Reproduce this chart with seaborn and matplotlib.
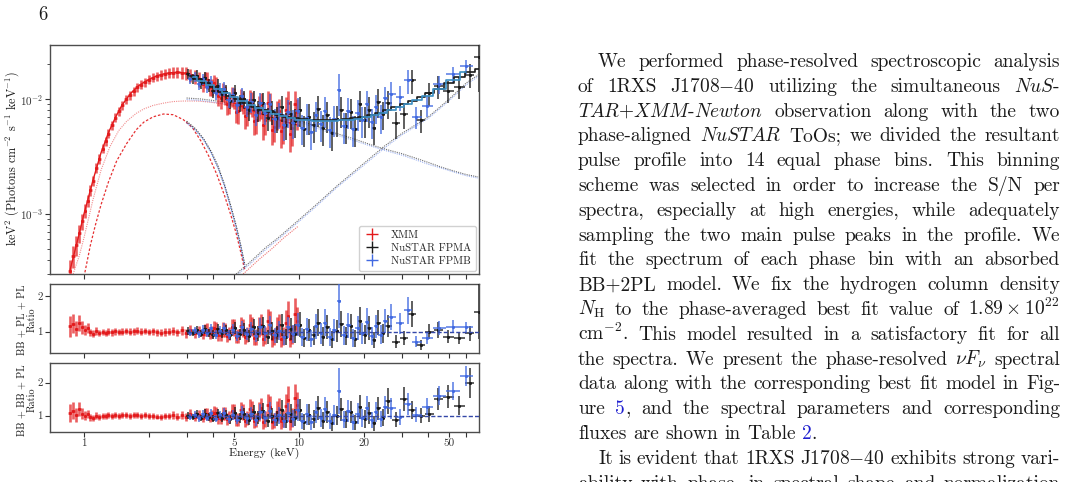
import numpy as np
import matplotlib
matplotlib.use('Agg')
import matplotlib.pyplot as plt
from matplotlib.lines import Line2D
from matplotlib.ticker import NullLocator, FixedLocator
import seaborn as sns

# ---------------- data ----------------
# XMM-Newton spectrum (keV, keV^2 photons cm^-2 s^-1 keV^-1)
xmm_e = [0.86, 0.89, 0.92, 0.95, 0.98, 1.01, 1.04, 1.07, 1.10, 1.14,
         1.18, 1.22, 1.26, 1.30, 1.35, 1.40, 1.45, 1.51, 1.57, 1.63,
         1.70, 1.77, 1.84, 1.92, 2.00, 2.09, 2.18, 2.28, 2.38, 2.49,
         2.60, 2.72, 2.85, 2.98, 3.12, 3.27, 3.42,
         3.58, 3.66, 3.75, 3.84, 3.93, 4.02, 4.12, 4.22, 4.32, 4.42,
         4.53, 4.64, 4.75, 4.86, 4.98, 5.10, 5.22, 5.35, 5.48, 5.61,
         5.75, 5.89, 6.03, 6.18, 6.33, 6.48, 6.64, 6.80, 6.97, 7.14,
         7.31, 7.49, 7.67, 7.86, 8.05, 8.25, 8.45, 8.66, 8.87, 9.09,
         9.31, 9.54, 9.77]
xmm_flux = [3.2e-4, 4.3e-4, 5.4e-4, 6.8e-4, 8.6e-4, 1.07e-3, 1.30e-3, 1.60e-3, 1.95e-3, 2.50e-3,
            3.0e-3, 3.7e-3, 4.3e-3, 5.0e-3, 5.9e-3, 6.9e-3, 7.8e-3, 8.9e-3, 9.9e-3, 1.08e-2,
            1.17e-2, 1.26e-2, 1.33e-2, 1.40e-2, 1.47e-2, 1.53e-2, 1.58e-2, 1.62e-2, 1.66e-2, 1.68e-2,
            1.70e-2, 1.71e-2, 1.70e-2, 1.68e-2, 1.62e-2, 1.57e-2, 1.50e-2,
            1.36e-2, 1.49e-2, 1.47e-2, 1.28e-2, 1.27e-2, 1.37e-2, 1.31e-2, 1.06e-2, 1.02e-2, 1.16e-2,
            1.10e-2, 9.08e-3, 9.31e-3, 1.07e-2, 1.04e-2, 7.78e-3, 7.83e-3, 1.01e-2, 9.46e-3, 7.06e-3,
            7.59e-3, 9.72e-3, 9.20e-3, 6.44e-3, 6.55e-3, 8.51e-3, 9.00e-3, 5.92e-3, 6.53e-3, 9.30e-3,
            8.81e-3, 5.42e-3, 5.75e-3, 7.43e-3, 7.85e-3, 5.24e-3, 5.68e-3, 8.00e-3, 9.15e-3, 4.96e-3,
            5.61e-3, 9.00e-3, 7.74e-3]
xmm_err = [0.25, 0.22, 0.20, 0.18, 0.16, 0.14, 0.12, 0.11, 0.10, 0.10,
           0.10, 0.09, 0.09, 0.09, 0.09, 0.09, 0.09, 0.09, 0.09, 0.09,
           0.09, 0.09, 0.09, 0.09, 0.09, 0.09, 0.09, 0.10, 0.10, 0.10,
           0.11, 0.11, 0.12, 0.13, 0.13, 0.14, 0.15,
           0.16, 0.16, 0.17, 0.17, 0.17, 0.18, 0.18, 0.18, 0.19, 0.19,
           0.19, 0.20, 0.20, 0.20, 0.21, 0.21, 0.22, 0.22, 0.22, 0.23,
           0.23, 0.24, 0.24, 0.24, 0.25, 0.25, 0.25, 0.26, 0.26, 0.26,
           0.27, 0.27, 0.27, 0.28, 0.28, 0.28, 0.29, 0.29, 0.29, 0.30,
           0.30, 0.30, 0.30]
xmm_ratio1 = [1.15, 1.22, 1.08, 1.25, 1.12, 1.05, 1.10, 0.98, 0.94, 1.02,
              0.96, 0.99, 0.97, 1.00, 0.98, 1.01, 0.99, 1.00, 1.02, 1.00,
              1.01, 1.03, 1.00, 1.02, 0.99, 1.01, 0.98, 0.97, 0.99, 1.00,
              1.03, 0.98, 1.04, 0.96, 1.05, 0.97, 1.02,
              0.93, 1.04, 1.06, 0.95, 0.98, 1.09, 1.08, 0.91, 0.90, 1.06,
              1.05, 0.89, 0.95, 1.13, 1.12, 0.86, 0.88, 1.15, 1.10, 0.84,
              0.92, 1.20, 1.15, 0.82, 0.85, 1.12, 1.20, 0.80, 0.90, 1.30,
              1.25, 0.78, 0.84, 1.10, 1.18, 0.80, 0.88, 1.25, 1.45, 0.80,
              0.92, 1.50, 1.30]
xmm_ratio2 = [1.08, 1.15, 1.02, 1.20, 1.06, 1.00, 1.05, 0.95, 0.92, 1.00,
              0.96, 0.99, 0.98, 1.01, 0.99, 1.02, 1.00, 1.01, 1.02, 1.00,
              1.01, 1.03, 1.00, 1.01, 0.98, 1.00, 0.97, 0.96, 0.98, 0.99,
              1.02, 0.97, 1.03, 0.96, 1.05, 0.97, 1.03,
              0.94, 1.05, 1.06, 0.96, 0.99, 1.09, 1.08, 0.92, 0.91, 1.07,
              1.05, 0.90, 0.95, 1.13, 1.13, 0.87, 0.88, 1.16, 1.10, 0.85,
              0.92, 1.21, 1.16, 0.83, 0.86, 1.12, 1.22, 0.81, 0.90, 1.32,
              1.26, 0.80, 0.85, 1.12, 1.20, 0.82, 0.90, 1.28, 1.48, 0.82,
              0.94, 1.52, 1.32]

# NuSTAR FPMA data
fpma_e = [3.05, 3.2, 3.35, 3.5, 3.65, 3.8, 4.0, 4.2, 4.4, 4.6, 4.8,
          5.05, 5.3, 5.55, 5.85, 6.15, 6.45, 6.8, 7.15, 7.5, 7.9, 8.3, 8.7, 9.15, 9.6,
          10.1, 10.6, 11.15, 11.7, 12.3, 12.9, 13.55, 14.25, 15.0, 15.75, 16.55, 17.4,
          18.3, 19.2, 20.2, 21.2, 22.3, 23.4, 24.6, 25.9,
          28.1, 30.7, 33.6, 36.8, 40.3, 44.5, 49.5, 55.5, 62.5, 68.5]
fpma_flux = [1.65e-2, 1.51e-2, 1.60e-2, 1.38e-2, 1.52e-2, 1.32e-2, 1.17e-2, 1.31e-2, 1.10e-2, 1.15e-2, 9.63e-3,
             1.13e-2, 9.21e-3, 9.96e-3, 8.0e-3, 9.74e-3, 7.98e-3, 9.32e-3, 6.79e-3, 7.8e-3, 6.81e-3, 8.5e-3,
             5.99e-3, 7.45e-3, 6.39e-3,
             8.04e-3, 5.45e-3, 6.93e-3, 5.9e-3, 8.13e-3, 5.59e-3, 7.28e-3, 5.07e-3, 6.68e-3, 8.05e-3,
             5.85e-3, 7.76e-3, 5.48e-3, 9.04e-3, 6.53e-3, 7.98e-3, 5.62e-3, 9.5e-3, 7.41e-3, 9.2e-3,
             6.12e-3, 7.38e-3, 1.455e-2, 6.55e-3, 1.12e-2, 1.29e-2, 1.18e-2, 1.27e-2, 1.63e-2, 2.3e-2]
fpma_err = [0.10, 0.10, 0.11, 0.11, 0.12, 0.12, 0.13, 0.13, 0.14, 0.14, 0.15,
            0.16, 0.17, 0.18, 0.19, 0.20, 0.21, 0.22, 0.23, 0.24, 0.25, 0.26, 0.27, 0.28, 0.28,
            0.29, 0.30, 0.30, 0.30, 0.30, 0.30, 0.30, 0.30, 0.30, 0.30, 0.30, 0.30,
            0.30, 0.30, 0.30, 0.30, 0.29, 0.28, 0.28, 0.27,
            0.26, 0.25, 0.24, 0.22, 0.22, 0.22, 0.22, 0.22, 0.23, 0.50]
fpma_ratio1 = [1.02, 0.96, 1.05, 0.94, 1.07, 0.97, 0.92, 1.08, 0.95, 1.04, 0.90,
               1.10, 0.93, 1.06, 0.88, 1.12, 0.95, 1.15, 0.86, 1.02, 0.92, 1.18, 0.85, 1.08, 0.94,
               1.20, 0.82, 1.05, 0.90, 1.25, 0.86, 1.12, 0.78, 1.02, 1.22, 0.88, 1.15,
               0.80, 1.30, 0.92, 1.10, 0.76, 1.25, 0.95, 1.15,
               0.72, 0.82, 1.50, 0.63, 1.00, 1.05, 0.86, 0.82, 0.95, 1.56]
fpma_ratio2 = [1.00, 0.95, 1.04, 0.93, 1.06, 0.96, 0.91, 1.07, 0.94, 1.03, 0.89,
               1.08, 0.92, 1.05, 0.87, 1.10, 0.94, 1.13, 0.85, 1.00, 0.91, 1.16, 0.84, 1.06, 0.93,
               1.17, 0.81, 1.03, 0.89, 1.22, 0.85, 1.10, 0.77, 1.00, 1.19, 0.87, 1.12,
               0.79, 1.26, 0.90, 1.08, 0.76, 1.22, 0.94, 1.45,
               0.87, 1.50, 1.17, 1.00, 1.05, 1.50, 1.58, 1.30, 2.00, np.nan]

# NuSTAR FPMB data
fpmb_e = [3.12, 3.27, 3.42, 3.57, 3.73, 3.9, 4.1, 4.3, 4.5, 4.7,
          4.92, 5.17, 5.42, 5.7, 6.0, 6.3, 6.62, 6.97, 7.32, 7.7,
          8.1, 8.5, 8.92, 9.37, 9.85, 10.35, 10.87, 11.42, 12.0, 12.6,
          13.22, 13.9, 14.6, 15.35, 16.15, 16.97, 17.85, 18.75, 19.7, 20.7,
          21.75, 22.85, 24.0, 25.2,
          26.9, 29.4, 32.1, 35.1, 39.3, 45.0, 52.0, 60.0]
fpmb_flux = [1.50e-2, 1.56e-2, 1.35e-2, 1.48e-2, 1.28e-2, 1.41e-2, 1.12e-2, 1.21e-2, 1.23e-2, 9.74e-3,
             1.08e-2, 8.81e-3, 1.06e-2, 8.55e-3, 9.4e-3, 7.31e-3, 9.23e-3, 7.54e-3, 8.97e-3, 6.66e-3,
             7.36e-3, 5.88e-3, 7.67e-3, 6.23e-3, 7.92e-3, 5.59e-3, 6.9e-3, 5.12e-3, 7.3e-3, 6.03e-3,
             7.94e-3, 5.4e-3, 6.72e-3, 1.19e-2, 5.85e-3, 7.79e-3, 5.49e-3, 7.48e-3, 6.56e-3, 9.02e-3,
             6.34e-3, 8.45e-3, 6.95e-3, 1.01e-2,
             1.11e-2, 1.04e-2, 1.45e-2, 7.0e-3, 8.77e-3, 1.34e-2, 1.65e-2, 1.93e-2]
fpmb_err = [0.10, 0.10, 0.11, 0.11, 0.12, 0.12, 0.13, 0.13, 0.14, 0.14,
            0.15, 0.16, 0.17, 0.18, 0.19, 0.20, 0.21, 0.22, 0.23, 0.24,
            0.25, 0.26, 0.27, 0.28, 0.28, 0.29, 0.30, 0.30, 0.30, 0.30,
            0.30, 0.30, 0.30, 0.40, 0.30, 0.30, 0.30, 0.30, 0.30, 0.30,
            0.29, 0.28, 0.28, 0.27,
            0.26, 0.25, 0.24, 0.22, 0.20, 0.18, 0.16, 0.14]
fpmb_ratio1 = [0.97, 1.04, 0.93, 1.06, 0.95, 1.09, 0.92, 1.03, 1.10, 0.91,
               1.05, 0.89, 1.12, 0.94, 1.08, 0.87, 1.14, 0.96, 1.18, 0.90,
               1.03, 0.84, 1.12, 0.93, 1.20, 0.86, 1.07, 0.80, 1.15, 0.95,
               1.25, 0.85, 1.05, 1.85, 0.90, 1.18, 0.82, 1.10, 0.95, 1.28,
               0.88, 1.15, 0.92, 1.30,
               1.40, 1.23, 1.60, 0.72, 0.82, 1.10, 1.14, 1.12]
fpmb_ratio2 = [0.96, 1.03, 0.92, 1.05, 0.94, 1.08, 0.91, 1.02, 1.08, 0.90,
               1.03, 0.88, 1.10, 0.92, 1.06, 0.86, 1.11, 0.94, 1.15, 0.88,
               1.01, 0.83, 1.09, 0.91, 1.17, 0.84, 1.04, 0.79, 1.11, 0.93,
               1.21, 0.83, 1.02, 1.75, 0.88, 1.13, 0.80, 1.06, 0.92, 1.22,
               0.86, 1.10, 0.90, 1.25,
               1.22, 0.95, 1.35, 1.03, 1.27, 1.60, 1.75, 2.20]

# binned best-fit models (steps)
fpma_mod_e = [3.1, 3.4, 3.7, 4.0, 4.4, 4.8, 5.2, 5.7, 6.2, 6.8, 7.4, 8.1, 8.8, 9.6,
              10.5, 11.5, 12.6, 13.8, 15.1, 16.5, 18.0, 19.7, 21.5, 23.5, 25.7, 28.1,
              30.7, 33.6, 36.8, 40.3, 44.5, 49.5, 55.5, 62.5, 68.5]
fpma_mod = [1.6e-2, 1.5e-2, 1.38e-2, 1.27e-2, 1.16e-2, 1.07e-2, 1.0e-2, 9.2e-3, 8.6e-3, 8.1e-3,
            7.7e-3, 7.3e-3, 7.0e-3, 6.8e-3, 6.65e-3, 6.55e-3, 6.5e-3, 6.5e-3, 6.55e-3, 6.65e-3,
            6.8e-3, 7.0e-3, 7.3e-3, 7.6e-3, 8.0e-3, 8.5e-3, 9.0e-3, 9.7e-3, 1.04e-2, 1.12e-2,
            1.23e-2, 1.37e-2, 1.55e-2, 1.72e-2, 1.82e-2]
fpmb_mod_e = [3.2, 3.5, 3.85, 4.2, 4.6, 5.0, 5.45, 5.95, 6.5, 7.1, 7.75, 8.45, 9.2, 10.05,
              11.0, 12.05, 13.2, 14.45, 15.8, 17.25, 18.85, 20.6, 22.5, 24.6, 26.9, 29.4,
              32.1, 35.1, 39.3, 45.0, 52.0, 60.0]
fpmb_mod = [1.54e-2, 1.44e-2, 1.32e-2, 1.22e-2, 1.12e-2, 1.04e-2, 9.6e-3, 8.9e-3, 8.3e-3, 7.8e-3,
            7.4e-3, 7.05e-3, 6.8e-3, 6.6e-3, 6.5e-3, 6.4e-3, 6.4e-3, 6.4e-3, 6.5e-3, 6.6e-3,
            6.75e-3, 6.95e-3, 7.2e-3, 7.55e-3, 7.95e-3, 8.45e-3, 9.05e-3, 9.75e-3, 1.07e-2,
            1.22e-2, 1.45e-2, 1.72e-2]

# model curves (XMM total and components)
xmod_e = [0.86, 0.9, 0.95, 1.0, 1.05, 1.1, 1.2, 1.3, 1.4, 1.5, 1.65, 1.8, 2.0, 2.2, 2.4,
          2.6, 2.8, 3.0, 3.3, 3.6, 4.0, 4.5, 5.0, 5.6, 6.3, 7.0, 8.0, 9.0, 10.0]
xmod = [3.2e-4, 4.5e-4, 6.7e-4, 1.0e-3, 1.4e-3, 1.95e-3, 3.4e-3, 5.1e-3, 6.9e-3, 8.8e-3,
        1.12e-2, 1.31e-2, 1.48e-2, 1.6e-2, 1.67e-2, 1.70e-2, 1.70e-2, 1.67e-2, 1.58e-2, 1.45e-2,
        1.26e-2, 1.05e-2, 9.2e-3, 8.4e-3, 7.7e-3, 7.2e-3, 6.6e-3, 6.2e-3, 5.9e-3]
bb_x_e = [1.01, 1.07, 1.13, 1.2, 1.3, 1.42, 1.58, 1.75, 1.9, 2.1, 2.34, 2.6, 2.9, 3.2,
          3.5, 3.8, 4.15, 4.5, 4.8, 5.1, 5.35, 5.6]
bb_x = [3.1e-4, 5.3e-4, 8.0e-4, 1.2e-3, 1.9e-3, 2.9e-3, 4.1e-3, 5.4e-3, 6.3e-3, 7.0e-3, 7.4e-3,
        7.3e-3, 6.6e-3, 5.6e-3, 4.3e-3, 3.2e-3, 2.2e-3, 1.45e-3, 1.0e-3, 6.8e-4, 4.7e-4, 3.2e-4]
spl_x_e = [0.89, 0.95, 1.0, 1.1, 1.2, 1.32, 1.45, 1.58, 1.75, 1.9, 2.1, 2.34, 2.6, 2.9, 3.3,
           3.6, 4.0, 4.5, 5.0, 5.6, 6.3, 7.0, 8.0, 9.0, 10.0]
spl_x = [3.0e-4, 4.3e-4, 6.2e-4, 1.32e-3, 2.4e-3, 3.85e-3, 5.3e-3, 6.4e-3, 7.5e-3, 8.2e-3,
         8.8e-3, 9.2e-3, 9.5e-3, 9.6e-3, 9.6e-3, 9.5e-3, 9.3e-3, 9.0e-3, 8.7e-3, 8.3e-3,
         7.9e-3, 7.5e-3, 7.0e-3, 6.6e-3, 6.3e-3]
hpl_x_e = [5.5, 6.5, 7.5, 8.5, 9.9]
hpl_x = [3.0e-4, 4.0e-4, 5.0e-4, 6.2e-4, 7.8e-4]

# NuSTAR components (FPMA / FPMB)
bb_n_e = [3.0, 3.3, 3.6, 3.9, 4.2, 4.5, 4.8, 5.1, 5.35, 5.6]
bb_a = [6.4e-3, 5.5e-3, 4.5e-3, 3.5e-3, 2.6e-3, 1.8e-3, 1.2e-3, 7.9e-4, 5.4e-4, 3.6e-4]
bb_b = [6.2e-3, 5.35e-3, 4.4e-3, 3.4e-3, 2.5e-3, 1.75e-3, 1.15e-3, 7.6e-4, 5.2e-4, 3.4e-4]
spl_n_e = [3.0, 3.5, 4.0, 5.0, 6.0, 7.0, 8.0, 10.0, 12.0, 15.0, 18.0, 22.0, 26.0, 30.0,
           35.0, 40.0, 46.0, 53.0, 60.0, 68.0]
spl_a = [1.02e-2, 1.0e-2, 9.7e-3, 9.1e-3, 8.5e-3, 7.9e-3, 7.4e-3, 6.5e-3, 5.8e-3, 5.0e-3,
         4.5e-3, 3.95e-3, 3.6e-3, 3.35e-3, 3.05e-3, 2.8e-3, 2.55e-3, 2.35e-3, 2.2e-3, 2.1e-3]
spl_b = [9.9e-3, 9.7e-3, 9.4e-3, 8.8e-3, 8.2e-3, 7.65e-3, 7.2e-3, 6.3e-3, 5.6e-3, 4.85e-3,
         4.35e-3, 3.85e-3, 3.5e-3, 3.25e-3, 2.95e-3, 2.7e-3, 2.5e-3, 2.3e-3, 2.15e-3, 2.05e-3]
hpl_n_e = [5.1, 6.0, 7.0, 8.0, 10.0, 12.0, 15.0, 20.0, 25.0, 30.0, 40.0, 50.0, 60.0, 68.0]
hpl_a = [3.0e-4, 3.9e-4, 5.1e-4, 6.2e-4, 8.9e-4, 1.2e-3, 1.75e-3, 2.75e-3, 3.9e-3, 5.0e-3,
         7.0e-3, 1.0e-2, 1.38e-2, 1.62e-2]
hpl_b = [2.9e-4, 3.75e-4, 4.9e-4, 6.0e-4, 8.6e-4, 1.16e-3, 1.7e-3, 2.65e-3, 3.75e-3, 4.85e-3,
         6.8e-3, 9.7e-3, 1.33e-2, 1.57e-2]

unity_e = [3.0, 79.0]
unity = [1.0, 1.0]

xtick_vals = [1, 2, 3, 4, 5, 10, 20, 30, 40, 50, 60]
xtick_text = ['1', '', '', '', '5', '10', '20', '', '', '50', '']

RED = '#e31a1c'
BLUE = '#4169e1'
INK = '#1a1a1a'

sns.set_theme(style='ticks')
plt.rcParams['font.family'] = ['cmr10', 'DejaVu Serif']
plt.rcParams['mathtext.fontset'] = 'cm'
plt.rcParams['axes.formatter.use_mathtext'] = True
plt.rcParams['axes.edgecolor'] = '0.3'
plt.rcParams['axes.linewidth'] = 1.0
plt.rcParams['xtick.color'] = '0.2'
plt.rcParams['ytick.color'] = '0.2'

W, H = 1067, 482
fig = plt.figure(figsize=(W / 100, H / 100), dpi=100)


def px_axes(left, top, right, bottom, **kw):
    return fig.add_axes([left / W, 1 - bottom / H, (right - left) / W, (bottom - top) / H], **kw)


ax0 = px_axes(50, 45, 479, 274)
ax1 = px_axes(50, 284, 479, 353, sharex=ax0)
ax2 = px_axes(50, 363, 479, 432, sharex=ax0)


def half_widths(e):
    e = np.asarray(e, float)
    mid = np.sqrt(e[1:] * e[:-1])
    lo = np.concatenate([[e[0] ** 2 / mid[0]], mid])
    hi = np.concatenate([mid, [e[-1] ** 2 / mid[-1]]])
    return np.vstack([e - lo, hi - e])


def points(ax, e, y, rel, color, z, lw=1.4, alpha=0.7):
    y = np.asarray(y, float)
    ax.errorbar(e, y, xerr=half_widths(e), yerr=np.asarray(rel) * y, fmt='none',
                ecolor=color, elinewidth=lw, alpha=alpha, zorder=z)
    sns.scatterplot(x=e, y=y, ax=ax, color=color, s=5, linewidth=0, zorder=z + 0.1, legend=False)


def curve(ax, e, y, color, ls='-', lw=1.0, alpha=1.0, z=2, **kw):
    sns.lineplot(x=e, y=y, ax=ax, color=color, linestyle=ls, linewidth=lw, alpha=alpha,
                 zorder=z, legend=False, **kw)


# ---- main spectrum ----
ax0.set_xscale('log')
ax0.set_yscale('log')
curve(ax0, bb_x_e, bb_x, RED, ls=(0, (2, 1.5)), lw=0.9, alpha=0.9)
curve(ax0, spl_x_e, spl_x, RED, ls=(0, (1, 1)), lw=0.8, alpha=0.5)
curve(ax0, hpl_x_e, hpl_x, RED, ls=(0, (1, 1)), lw=0.8, alpha=0.6)
curve(ax0, bb_n_e, bb_a, 'k', ls=(0, (1, 1)), lw=0.9, alpha=0.8)
curve(ax0, bb_n_e, bb_b, BLUE, ls=(0, (1, 1)), lw=0.9, alpha=0.7)
curve(ax0, spl_n_e, spl_a, '0.2', ls=(0, (1, 1)), lw=0.8, alpha=0.7)
curve(ax0, spl_n_e, spl_b, BLUE, ls=(0, (1, 1)), lw=0.8, alpha=0.5)
curve(ax0, hpl_n_e, hpl_a, '0.2', ls=(0, (1, 1)), lw=0.8, alpha=0.7)
curve(ax0, hpl_n_e, hpl_b, BLUE, ls=(0, (1, 1)), lw=0.8, alpha=0.5)

points(ax0, xmm_e, xmm_flux, xmm_err, RED, 3, lw=1.9, alpha=0.7)
points(ax0, fpma_e, fpma_flux, fpma_err, 'k', 4)
points(ax0, fpmb_e, fpmb_flux, fpmb_err, BLUE, 5)

curve(ax0, xmod_e, xmod, RED, lw=1.0, z=3.5)
curve(ax0, fpma_mod_e, fpma_mod, 'k', lw=1.2, z=6, drawstyle='steps-mid')
curve(ax0, fpmb_mod_e, fpmb_mod, '#3b8fc4', lw=1.2, z=6, drawstyle='steps-mid')

ax0.set_ylim(3.0e-4, 2.95e-2)
handles = [Line2D([], [], color=c, marker='+', markersize=9, markeredgewidth=1.0,
                  linestyle='none', label=n)
           for c, n in [(RED, 'XMM'), ('k', 'NuSTAR FPMA'), (BLUE, 'NuSTAR FPMB')]]
leg = ax0.legend(handles=handles, loc='lower right', fontsize=7.8, frameon=True,
                 borderaxespad=0.3, handlelength=1.5, handletextpad=1.0, labelspacing=0.3,
                 borderpad=0.45, fancybox=True, framealpha=0.9)
leg.get_frame().set_edgecolor('0.8')
leg.set_zorder(10)

# ---- ratio panels ----
for ax, rx, ra, rb in [(ax1, xmm_ratio1, fpma_ratio1, fpmb_ratio1),
                       (ax2, xmm_ratio2, fpma_ratio2, fpmb_ratio2)]:
    curve(ax, unity_e, unity, '#3347a8', ls=(0, (3, 1.5)), lw=1.0, z=7)
    points(ax, xmm_e, rx, xmm_err, RED, 3, lw=1.9, alpha=0.7)
    points(ax, fpma_e, ra, fpma_err, 'k', 4)
    points(ax, fpmb_e, rb, fpmb_err, BLUE, 5)
    ax.set_yticks([1, 2])
    ax.set_yticklabels(['1', '2'])
    ax.yaxis.set_minor_locator(NullLocator())

ax1.set_ylim(0.4, 2.34)
ax2.set_ylim(0.5, 2.6)

for ax in (ax0, ax1, ax2):
    ax.set_xscale('log')
    ax.xaxis.set_major_locator(FixedLocator(xtick_vals))
    ax.xaxis.set_minor_locator(NullLocator())
    ax.set_xlabel('')
    ax.set_ylabel('')
    ax.tick_params(axis='both', which='major', direction='out', length=3.5, width=0.8,
                   labelsize=8, pad=1.5)
    ax.tick_params(axis='both', which='minor', direction='out', length=2, width=0.6)
    for s in ax.spines.values():
        s.set_visible(True)
ax0.set_xlim(0.695, 68.7)
ax2.set_xticklabels(xtick_text)
ax0.tick_params(labelbottom=False)
ax1.tick_params(labelbottom=False)

fig.text(12 / W, 1 - 159 / H, r'keV$^2$ (Photons cm$^{-2}$ s$^{-1}$ keV$^{-1}$)', rotation=90,
         ha='center', va='center', fontsize=8.8, color=INK)
fig.text(27 / W, 1 - 320 / H, 'BB + PL + PL\nRatio', rotation=90, ha='center', va='center',
         fontsize=7.4, color=INK, multialignment='center', linespacing=1.0)
fig.text(27 / W, 1 - 400 / H, 'BB + BB + PL\nRatio', rotation=90, ha='center', va='center',
         fontsize=7.4, color=INK, multialignment='center', linespacing=1.0)
fig.text(264.5 / W, 1 - 453 / H, 'Energy (keV)', ha='center', va='center', fontsize=8.5,
         color=INK)

# ---- page number and justified body text ----
fig.text(38 / W, 1 - 20 / H, '6', fontsize=13.5, va='baseline', ha='left', color=INK)

FS_TXT = 14.0
LINK = '#2020d0'
para = [
    ("We performed phase-resolved spectroscopic analysis", True, True),
    ("of 1RXS J1708$-$40 utilizing the simultaneous $\\mathit{NuS}$-", False, True),
    ("$\\mathit{TAR}$+$\\mathit{XMM}$-$\\mathit{Newton}$ observation along with the two", False, True),
    ("phase-aligned $\\mathit{NuSTAR}$ ToOs; we divided the resultant", False, True),
    ("pulse profile into 14 equal phase bins. This binning", False, True),
    ("scheme was selected in order to increase the S/N per", False, True),
    ("spectra, especially at high energies, while adequately", False, True),
    ("sampling the two main pulse peaks in the profile. We", False, True),
    ("fit the spectrum of each phase bin with an absorbed", False, True),
    ("BB+2PL model. We fix the hydrogen column density", False, True),
    ("$N_{\\mathrm{H}}$ to the phase-averaged best fit value of $1.89\\times10^{22}$", False, True),
    ("cm$^{-2}$. This model resulted in a satisfactory fit for all", False, True),
    ("the spectra. We present the phase-resolved $\\nu F_\\nu$ spectral", False, True),
    ("data along with the corresponding best fit model in Fig-", False, True),
    ("ure [5], and the spectral parameters and corresponding", False, True),
    ("fluxes are shown in Table [2].", False, False),
    ("It is evident that 1RXS J1708$-$40 exhibits strong vari-", True, True),
    ("ability with phase, in spectral shape and normalization", False, True),
]

renderer = fig.canvas.get_renderer()


def split_words(line):
    words, buf, in_math = [], '', False
    for ch in line:
        if ch == '$':
            in_math = not in_math
        if ch == ' ' and not in_math:
            if buf:
                words.append(buf)
            buf = ''
        else:
            buf += ch
    if buf:
        words.append(buf)
    return words


def segments(word):
    out, buf = [], ''
    for ch in word:
        if ch == '[':
            if buf:
                out.append((buf, INK))
            buf = ''
        elif ch == ']':
            out.append((buf, LINK))
            buf = ''
        else:
            buf += ch
    if buf:
        out.append((buf, INK))
    return out


def text_w(s):
    t = fig.text(0, 0, s, fontsize=FS_TXT)
    w = t.get_window_extent(renderer).width
    t.remove()
    return w


space_w = 0.333 * FS_TXT * 100 / 72
for k, (line, indent, just) in enumerate(para):
    yb = 67 + k * 24.8
    x0 = 598 if indent else 578
    segs = [segments(w) for w in split_words(line)]
    widths = [[text_w(s) for s, _ in sg] for sg in segs]
    total = sum(sum(ws) for ws in widths)
    gap = (1060 - x0 - total) / (len(segs) - 1) if just else space_w
    x = x0
    for sg, ws in zip(segs, widths):
        for (s, c), w in zip(sg, ws):
            fig.text(x / W, 1 - yb / H, s, fontsize=FS_TXT, color=c, va='baseline', ha='left')
            x += w
        x += gap

fig.savefig('out.png', dpi=100)
